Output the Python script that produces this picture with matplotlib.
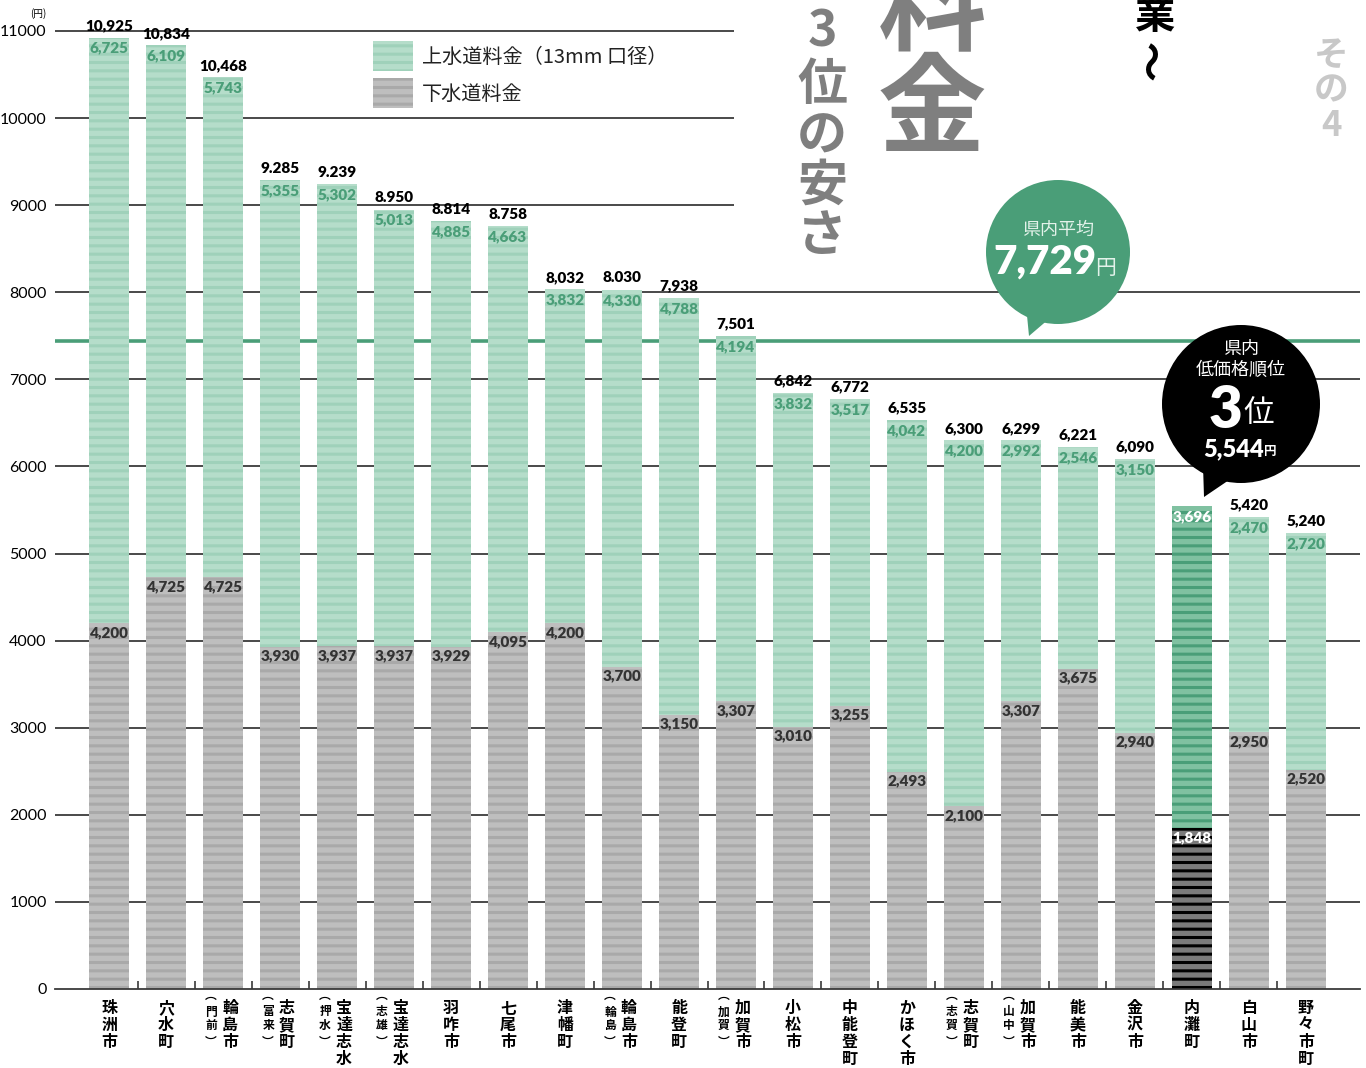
import matplotlib
matplotlib.use('Agg')
import matplotlib.pyplot as plt
from matplotlib.patches import Circle, Polygon, Rectangle
from matplotlib import transforms
import numpy as np

plt.rcParams['font.family'] = ['Noto Sans CJK JP', 'DejaVu Sans']
plt.rcParams['hatch.linewidth'] = 2.2

# ---------------- data ----------------
categories = ['珠洲市', '穴水町', '輪島市', '志賀町', '宝達志水町', '宝達志水町', '羽咋市', '七尾市',
              '津幡町', '輪島市', '能登町', '加賀市', '小松市', '中能登町', 'かほく市', '志賀町',
              '加賀市', '能美市', '金沢市', '内灘町', '白山市', '野々市町']
sub_labels = ['', '', '門前', '富来', '押水', '志雄', '', '', '', '輪島', '', '加賀', '', '', '',
              '志賀', '山中', '', '', '', '', '']
water = [6725, 6109, 5743, 5355, 5302, 5013, 4885, 4663, 3832, 4330, 4788, 4194, 3832, 3517,
         4042, 4200, 2992, 2546, 3150, 3696, 2470, 2720]
sewer = [4200, 4725, 4725, 3930, 3937, 3937, 3929, 4095, 4200, 3700, 3150, 3307, 3010, 3255,
         2493, 2100, 3307, 3675, 2940, 1848, 2950, 2520]
total_labels = ['10,925', '10,834', '10,468', '9.285', '9.239', '8.950', '8.814', '8.758',
                '8,032', '8.030', '7,938', '7,501', '6,842', '6,772', '6,535', '6,300', '6,299',
                '6,221', '6,090', '', '5,420', '5,240']
water_labels = ['6,725', '6,109', '5,743', '5,355', '5,302', '5,013', '4,885', '4,663', '3,832',
                '4,330', '4,788', '4,194', '3,832', '3,517', '4,042', '4,200', '2,992', '2,546',
                '3,150', '3,696', '2,470', '2,720']
sewer_labels = ['4,200', '4,725', '4,725', '3,930', '3,937', '3,937', '3,929', '4,095', '4,200',
                '3,700', '3,150', '3,307', '3,010', '3,255', '2,493', '2,100', '3,307', '3,675',
                '2,940', '1,848', '2,950', '2,520']
highlight = 19
avg_line = 7440
yticks = [0, 1000, 2000, 3000, 4000, 5000, 6000, 7000, 8000, 9000, 10000, 11000]
short_grid = [9000, 10000, 11000]
legend_labels = ['上水道料金（13mm 口径）', '下水道料金']

# ---------------- colors ----------------
G_LIGHT, G_DARK = '#b5ddca', '#9fd1ba'
S_LIGHT, S_DARK = '#bebebe', '#a9a9a9'
H_G_LIGHT, H_G_DARK = '#80c1a1', '#4a9e78'
H_S_LIGHT, H_S_DARK = '#7a7a7a', '#000000'
GREEN_TXT = '#4a9e78'
NUMF = ['Lato', 'DejaVu Sans']

W, H = 1366, 1068
fig = plt.figure(figsize=(W / 100, H / 100), dpi=100)
ax = fig.add_axes([55 / W, 79 / H, (1360 - 55) / W, 989 / H])

n = len(categories)
x = np.arange(n)
water_fc = [H_G_LIGHT if i == highlight else G_LIGHT for i in range(n)]
water_ec = [H_G_DARK if i == highlight else G_DARK for i in range(n)]
sewer_fc = [H_S_LIGHT if i == highlight else S_LIGHT for i in range(n)]
sewer_ec = [H_S_DARK if i == highlight else S_DARK for i in range(n)]

bw = 0.70
ax.bar(x, sewer, width=bw, color=sewer_fc, edgecolor=sewer_ec, hatch='--', linewidth=0, zorder=3)
ax.bar(x, water, bottom=sewer, width=bw, color=water_fc, edgecolor=water_ec, hatch='--',
       linewidth=0, zorder=3)

ax.set_xlim(-0.95, 21.95)
ax.set_ylim(0, 989 / ((989 - 31) / 11000))

# gridlines
for yv in yticks[1:]:
    xmax = 10.96 if yv in short_grid else 21.95
    ax.hlines(yv, -0.95, xmax, color='#3a3a3a', lw=1.3, zorder=1)
ax.axhline(avg_line, color=GREEN_TXT, lw=2.6, zorder=2)

for s in ['top', 'right', 'left']:
    ax.spines[s].set_visible(False)
ax.spines['bottom'].set_color('#3a3a3a')
ax.spines['bottom'].set_linewidth(1.3)
ax.spines['bottom'].set_zorder(4)

ax.set_yticks(yticks)
ax.set_yticklabels([str(v) for v in yticks], fontfamily=NUMF, fontsize=11.5)
ax.tick_params(axis='y', length=0, pad=6)
ax.set_xticks([])
ax.set_xticks(x[:-1] + 0.5, minor=True)
ax.tick_params(axis='x', which='minor', direction='in', length=6, width=1.2, color='#3a3a3a')
fig.text(38 / W, 1 - 14 / H, '(円)', fontsize=7, ha='center', va='center')

# value labels
for i in range(n):
    top = sewer[i] + water[i]
    if total_labels[i]:
        ax.annotate(total_labels[i], (x[i], top), xytext=(0, 4), textcoords='offset points',
                    ha='center', va='bottom', fontsize=11, fontweight='heavy', family=NUMF,
                    color='black', zorder=6)
    wc = 'white' if i == highlight else GREEN_TXT
    ax.annotate(water_labels[i], (x[i], top), xytext=(0, -3), textcoords='offset points',
                ha='center', va='top', fontsize=11, fontweight='heavy', family=NUMF,
                color=wc, zorder=6)
    sc = 'white' if i == highlight else '#333333'
    ax.annotate(sewer_labels[i], (x[i], sewer[i]), xytext=(0, -2), textcoords='offset points',
                ha='center', va='top', fontsize=11, fontweight='heavy', family=NUMF,
                color=sc, zorder=6)

# vertical category labels
base = ax.get_xaxis_transform()
for i in range(n):
    main = categories[i]
    sub = sub_labels[i]
    dx_main = 7 if sub else 0
    for k, ch in enumerate(main):
        tr = transforms.offset_copy(base, fig=fig, x=dx_main, y=-(1008 + 17 * k - 989), units='dots')
        ax.text(x[i], 0, ch, transform=tr, ha='center', va='center', fontsize=11.5,
                fontweight='bold', clip_on=False)
    if sub:
        sub_chars = ['︵'] + list(sub) + ['︶']
        ys = [995, 1012, 1025, 1042]
        for k, ch in enumerate(sub_chars):
            tr = transforms.offset_copy(base, fig=fig, x=-12, y=-(ys[k] - 989), units='dots')
            ax.text(x[i], 0, ch, transform=tr, ha='center', va='center', fontsize=8.5,
                    fontweight='bold', clip_on=False)

# overlay (pixel coordinates) for legend, callouts and header
ov = fig.add_axes([0, 0, 1, 1], zorder=5)
ov.set_xlim(0, W)
ov.set_ylim(H, 0)
ov.axis('off')
ov.patch.set_alpha(0)

# legend
leg_fc = [G_LIGHT, S_LIGHT]
leg_ec = [G_DARK, S_DARK]
for k, lab in enumerate(legend_labels):
    y0 = 41 + 37 * k
    ov.add_patch(Rectangle((373, y0), 40, 30, facecolor=leg_fc[k], edgecolor=leg_ec[k],
                           hatch='--', linewidth=0))
    ov.text(422, y0 + 16, lab, fontsize=14.5, ha='left', va='center', color='#222222')

# green average bubble
ov.add_patch(Circle((1058, 252), 72, color=GREEN_TXT, lw=0))
ov.add_patch(Polygon([(1026, 305), (1050, 318), (1029, 336)], closed=True, color=GREEN_TXT, lw=0))
ov.text(1058, 230, '県内平均', color='#e3f2ea', fontsize=13, ha='center', va='center')
ov.text(1045, 262, '7,729', color='white', fontsize=29, fontweight='heavy', family=NUMF,
        ha='center', va='center')
ov.text(1106, 268, '円', color='#e3f2ea', fontsize=15, ha='center', va='center')

# black rank bubble
ov.add_patch(Circle((1241, 404), 79, color='black', lw=0))
ov.add_patch(Polygon([(1203, 465), (1232, 478), (1204, 497)], closed=True, color='black', lw=0))
ov.text(1241, 349, '県内', color='white', fontsize=13, ha='center', va='center')
ov.text(1241, 370, '低価格順位', color='white', fontsize=13, ha='center', va='center')
ov.text(1226, 410, '3', color='white', fontsize=42, fontweight='heavy', family=NUMF,
        ha='center', va='center')
ov.text(1259, 414, '位', color='white', fontsize=22, ha='center', va='center')
ov.text(1234, 449, '5,544', color='white', fontsize=17, fontweight='heavy', family=NUMF,
        ha='center', va='center')
ov.text(1270, 452, '円', color='white', fontsize=9, fontweight='bold', ha='center', va='center')


def vtext(chars, xc, ycs, **kw):
    for ch, yc in zip(chars, ycs):
        ov.text(xc, yc, ch, ha='center', va='center', clip_on=False, **kw)


vtext(['第', '3', '位', 'の', '安', 'さ'], 822, [-18, 32, 86, 136, 186, 236],
      color='#7f7f7f', fontsize=36, fontweight='bold')
vtext(['料', '金'], 932, [10, 113], color='#7f7f7f', fontsize=78, fontweight='bold')
vtext(['業'], 1155, [16], color='black', fontsize=29, fontweight='bold')
ov.text(1155, 60, '〜', rotation=90, ha='center', va='center', color='black', fontsize=29,
        fontweight='bold')
vtext(['そ', 'の', '4'], 1331, [55, 90, 125], color='#c8c8c8', fontsize=25, fontweight='bold')

fig.savefig('out.png', dpi=100)
